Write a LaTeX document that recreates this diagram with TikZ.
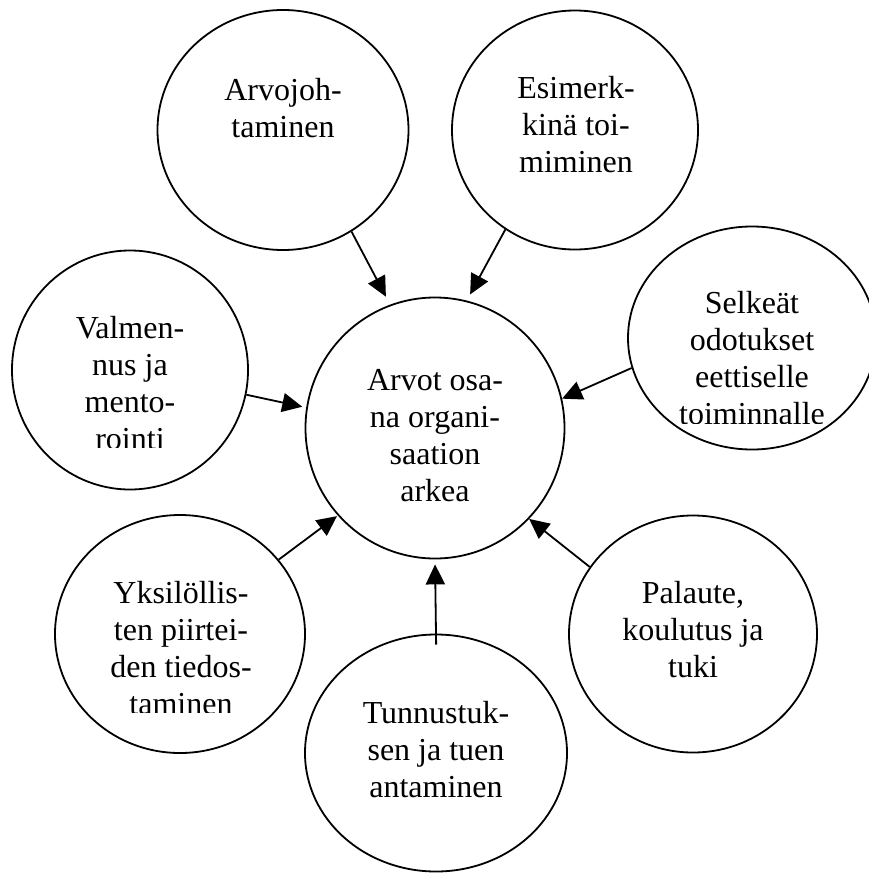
\documentclass[tikz,border=0pt]{standalone}
\usepackage{fontspec}
\setmainfont{Liberation Serif}
\usetikzlibrary{shapes.geometric,arrows.meta}

\begin{document}
\begin{tikzpicture}[x=1pt,y=-1pt,
  bubble/.style={ellipse,draw,line width=1.8pt,inner sep=0pt},
  txt/.style={align=center,anchor=base,inner sep=0pt,font=\fontsize{32}{37.2}\selectfont},
  arr/.style={-{Triangle[length=20pt,width=19pt]},line width=1.8pt}]
\useasboundingbox (0,0) rectangle (869,873);

\node[bubble,minimum width=251pt,minimum height=240pt] (arvo) at (283,130) {};
\node[bubble,minimum width=246pt,minimum height=239pt] (esim) at (575,130) {};
\node[bubble,minimum width=259pt,minimum height=261pt] (keski) at (435,428) {};
\node[bubble,minimum width=236pt,minimum height=239pt] (valm) at (130,370) {};
\node[bubble,minimum width=248pt,minimum height=223pt] (selk) at (752,338) {};
\node[bubble,minimum width=250pt,minimum height=238pt] (yksi) at (180,634) {};
\node[bubble,minimum width=248pt,minimum height=237pt] (pala) at (693,634) {};
\node[bubble,minimum width=262pt,minimum height=237pt] (tunn) at (436,753) {};

\node[txt] (arvo text) at (283,137.2) {Arvojoh-\\taminen};
\node[txt] (esim text) at (576,172.4) {Esimerk-\\kinä toi-\\miminen};
\node[txt] (keski text) at (435,501.6) {Arvot osa-\\na organi-\\saation\\arkea};
\node[txt] (pala text) at (693,677.4) {Palaute,\\koulutus ja\\tuki};
\node[txt] (tunn text) at (436,797.4) {Tunnustuk-\\sen ja tuen\\antaminen};

\begin{scope}
\clip (0,0) rectangle (869,447);
\node[txt] (valm text) at (130,449.6) {Valmen-\\nus ja\\mento-\\rointi};
\end{scope}
\begin{scope}
\clip (0,0) rectangle (869,423);
\node[txt] (selk text) at (752,424.6) {Selkeät\\odotukset\\eettiselle\\toiminnalle};
\end{scope}
\begin{scope}
\clip (0,0) rectangle (869,712);
\node[txt] (yksi text) at (181,714.6) {Yksilöllis-\\ten piirtei-\\den tiedos-\\taminen};
\end{scope}

\draw[arr,shorten >=9pt] (arvo.304.6) -- (keski.110.1);
\draw[arr,shorten >=7pt] (esim.235.4) -- (keski.76.1);
\draw[arr,shorten >=4pt] (valm.348.3) -- (keski.171);
\draw[arr] (selk.194.5) -- (keski.13.8);
\draw[arr,shorten >=1pt] (yksi.37.1) -- (keski.222.2);
\draw[arr] (pala.147.5) -- (keski.316.6);
\draw[arr,shorten <=-11pt,shorten >=5pt] (tunn.90) -- (keski.270);

\end{tikzpicture}
\end{document}
